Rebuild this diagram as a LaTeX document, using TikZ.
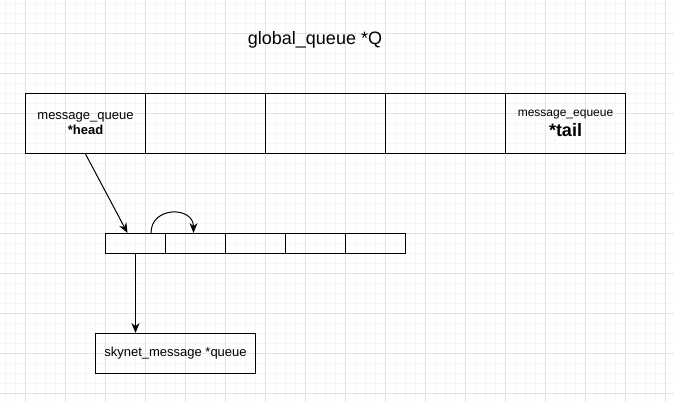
\documentclass[tikz,border=0pt]{standalone}
\usepackage{fontspec}
\setmainfont{Liberation Sans}
\usetikzlibrary{arrows.meta,calc}
\definecolor{gridmajor}{HTML}{E2E2E2}
\definecolor{gridminor}{HTML}{F6F6F6}
\tikzset{
  cellbox/.style={draw=black,line width=1pt,minimum width=120pt,minimum height=60pt,inner sep=0pt,anchor=north west,font=\fontsize{13}{14.5}\selectfont,align=center},
  smallcell/.style={draw=black,line width=1pt,minimum width=60pt,minimum height=20pt,inner sep=0pt,anchor=north west},
  conn/.style={draw=black,line width=1pt,-{Stealth[length=10pt,width=8pt]}}
}
\begin{document}
\begin{tikzpicture}[x=1pt,y=-1pt]
\useasboundingbox (0,0) rectangle (674,402);
\fill[white] (0,0) rectangle (674,402);
% grid
\foreach \x in {5,15,...,674} \draw[gridminor,line width=1pt] (\x,0) -- (\x,402);
\foreach \y in {3,13,...,402} \draw[gridminor,line width=1pt] (0,\y) -- (674,\y);
\foreach \x in {25,65,...,674} \draw[gridmajor,line width=1pt] (\x,0) -- (\x,402);
\foreach \y in {33,73,...,402} \draw[gridmajor,line width=1pt] (0,\y) -- (674,\y);
% title
\node[font=\fontsize{18}{20}\selectfont] (title) at (315,40) {global\_queue *Q};
% top cells
\node[cellbox] (h) at (25,93) {message\_queue\\[0pt]\textbf{*head}};
\node[cellbox] (c2) at (145,93) {};
\node[cellbox] (c3) at (265,93) {};
\node[cellbox] (c4) at (385,93) {};
\node[cellbox,font=\fontsize{12}{13.5}\selectfont] (t) at (505,93) {message\_equeue\\[3pt]{\fontsize{18}{20}\selectfont\textbf{*tail}}};
% small array
\node[smallcell] (a1) at (105,233) {};
\node[smallcell] (a2) at (165,233) {};
\node[smallcell] (a3) at (225,233) {};
\node[smallcell] (a4) at (285,233) {};
\node[smallcell] (a5) at (345,233) {};
% bottom box
\node[draw=black,line width=1pt,minimum width=160pt,minimum height=40pt,inner sep=0pt,anchor=north west,font=\fontsize{13}{15}\selectfont] (sm) at (95,333) {skynet\_message *queue};
% connectors
\draw[conn] (h.south) -- ($(a1.north)+(-8,0)$);
\draw[conn] ($(a1.north east)+(-15,0)$) .. controls ($(a1.north east)+(-15,-27)$) and ($(a2.north)+(-2,-27)$) .. ($(a2.north)+(-2,0)$);
\draw[conn] (a1.south) -- (a1.south |- sm.north);
\end{tikzpicture}
\end{document}
